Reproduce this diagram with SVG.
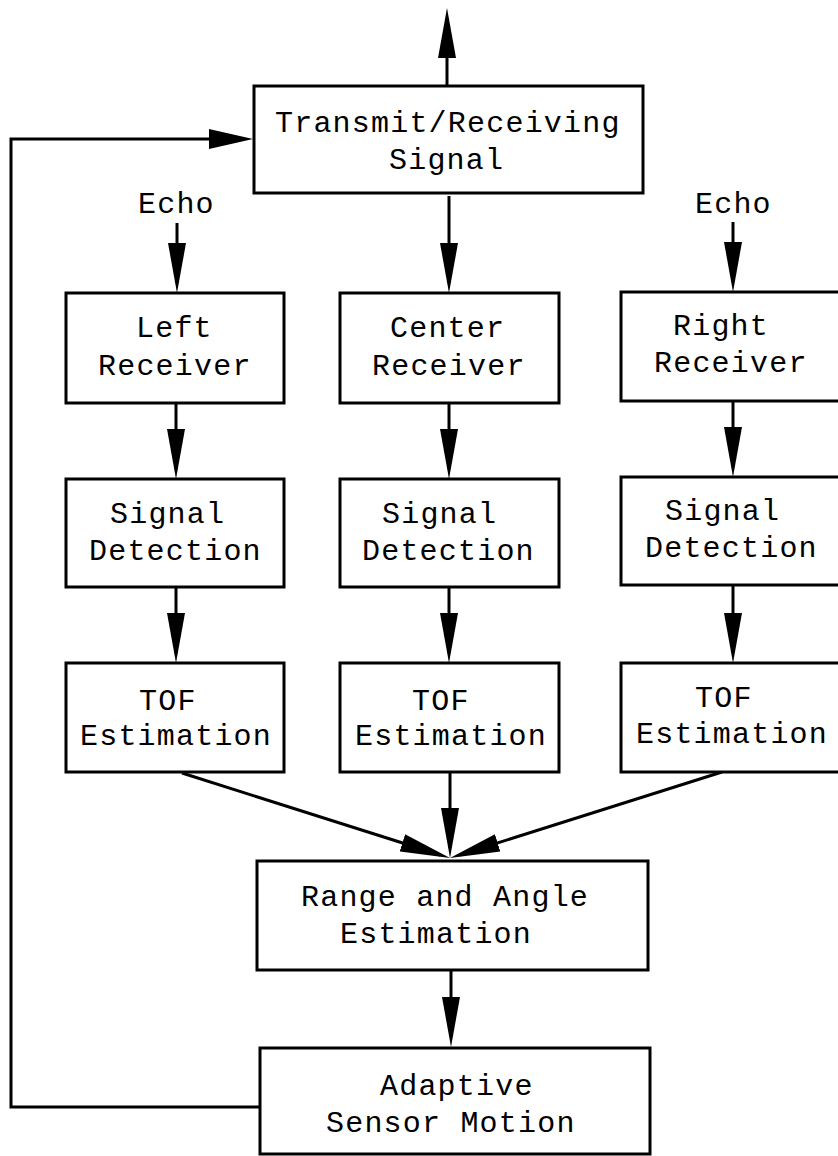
<svg xmlns="http://www.w3.org/2000/svg" width="838" height="1156" viewBox="0 0 838 1156">
<style>
.box{fill:#fff;stroke:#000;stroke-width:3}
.ln{fill:none;stroke:#000;stroke-width:3}
text{font-family:"Liberation Mono","Courier New",monospace;font-size:30px;letter-spacing:1.2px;fill:#000}
</style>
<defs>
<marker id="ah" markerUnits="userSpaceOnUse" markerWidth="50" markerHeight="20" refX="40" refY="10" orient="auto">
<path d="M0,1 L50,10 L0,19 z" fill="#000"/>
</marker>
<marker id="ah2" markerUnits="userSpaceOnUse" markerWidth="44" markerHeight="22" refX="34" refY="11" orient="auto">
<path d="M0,1 L44,11 L0,21 z" fill="#000"/>
</marker>
</defs>
<rect width="838" height="1156" fill="#fff"/>
<g id="connectors">
<line class="ln" x1="447" y1="86" x2="447" y2="18" marker-end="url(#ah)"/>
<path class="ln" d="M260,1107 H11 V139 H243" marker-end="url(#ah2)"/>
<line class="ln" x1="177" y1="223" x2="177" y2="283" marker-end="url(#ah)"/>
<line class="ln" x1="449" y1="196" x2="449" y2="283" marker-end="url(#ah)"/>
<line class="ln" x1="733" y1="222" x2="733" y2="282" marker-end="url(#ah)"/>
<line class="ln" x1="176" y1="403" x2="176" y2="469" marker-end="url(#ah)"/>
<line class="ln" x1="176" y1="587" x2="176" y2="653" marker-end="url(#ah)"/>
<line class="ln" x1="449" y1="403" x2="449" y2="469" marker-end="url(#ah)"/>
<line class="ln" x1="449" y1="587" x2="449" y2="653" marker-end="url(#ah)"/>
<line class="ln" x1="733" y1="401" x2="733" y2="467" marker-end="url(#ah)"/>
<line class="ln" x1="733" y1="585" x2="733" y2="653" marker-end="url(#ah)"/>
<line class="ln" x1="182" y1="773" x2="440.5" y2="855" marker-end="url(#ah)"/>
<line class="ln" x1="450" y1="772" x2="450" y2="848" marker-end="url(#ah)"/>
<line class="ln" x1="722" y1="772" x2="459.5" y2="855" marker-end="url(#ah)"/>
<line class="ln" x1="451" y1="970" x2="451" y2="1037" marker-end="url(#ah)"/>
</g>
<g id="transmit">
<rect class="box" x="254" y="86" width="389" height="107"/>
<text x="275" y="132">Transmit/Receiving</text>
<text x="389" y="169">Signal</text>
</g>
<g id="echo-left"><text x="138" y="213">Echo</text></g>
<g id="echo-right"><text x="695" y="213">Echo</text></g>
<g id="left-receiver">
<rect class="box" x="66" y="293" width="218" height="110"/>
<text x="136" y="337">Left</text>
<text x="98" y="375">Receiver</text>
</g>
<g id="center-receiver">
<rect class="box" x="340" y="293" width="219" height="110"/>
<text x="390" y="337">Center</text>
<text x="372" y="375">Receiver</text>
</g>
<g id="right-receiver">
<rect class="box" x="621" y="292" width="230" height="109"/>
<text x="673" y="335">Right</text>
<text x="654" y="372">Receiver</text>
</g>
<g id="left-detection">
<rect class="box" x="66" y="479" width="218" height="108"/>
<text x="110" y="523">Signal</text>
<text x="89" y="560">Detection</text>
</g>
<g id="center-detection">
<rect class="box" x="340" y="479" width="219" height="108"/>
<text x="382" y="523">Signal</text>
<text x="362" y="560">Detection</text>
</g>
<g id="right-detection">
<rect class="box" x="621" y="477" width="230" height="108"/>
<text x="665" y="520">Signal</text>
<text x="645" y="557">Detection</text>
</g>
<g id="left-tof">
<rect class="box" x="66" y="663" width="218" height="109"/>
<text x="139" y="710">TOF</text>
<text x="80" y="745">Estimation</text>
</g>
<g id="center-tof">
<rect class="box" x="340" y="663" width="219" height="109"/>
<text x="412" y="710">TOF</text>
<text x="355" y="745">Estimation</text>
</g>
<g id="right-tof">
<rect class="box" x="621" y="663" width="230" height="109"/>
<text x="695" y="707">TOF</text>
<text x="636" y="743">Estimation</text>
</g>
<g id="range-angle">
<rect class="box" x="257" y="861" width="391" height="109"/>
<text x="301" y="906">Range and Angle</text>
<text x="340" y="943">Estimation</text>
</g>
<g id="adaptive-motion">
<rect class="box" x="260" y="1048" width="390" height="106"/>
<text x="380" y="1095">Adaptive</text>
<text x="326" y="1132">Sensor Motion</text>
</g>
</svg>
